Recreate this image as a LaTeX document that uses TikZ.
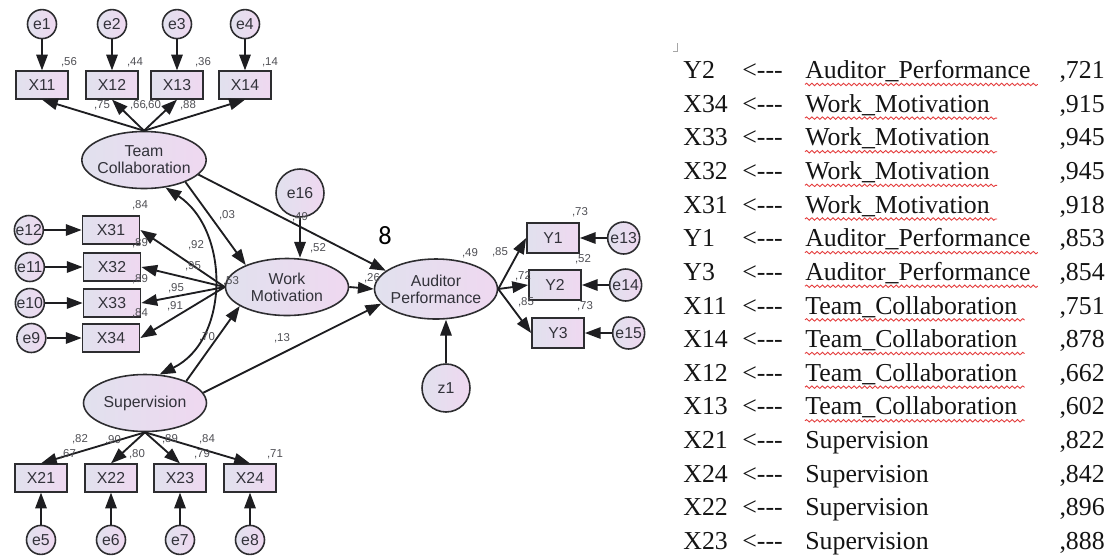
\documentclass[tikz,border=0pt]{standalone}
\usepackage{fontspec}
\setsansfont{Liberation Sans}
\newfontfamily\tabfont{Liberation Serif}[Ligatures=TeXOff]
\newfontfamily\pagefont{Carlito}
\usepackage{tikz}
\usetikzlibrary{arrows.meta, positioning, shapes.geometric, matrix, decorations.pathmorphing}

\definecolor{shadeleft}{RGB}{225,225,238}
\definecolor{shaderight}{RGB}{239,216,240}
\definecolor{nodeline}{RGB}{45,45,48}
\definecolor{nodeink}{RGB}{50,50,58}
\definecolor{estink}{RGB}{80,80,85}
\definecolor{lineink}{RGB}{30,30,33}
\definecolor{tabink}{RGB}{20,20,20}
\definecolor{spellred}{RGB}{228,60,60}

\begin{document}
\begin{tikzpicture}[
  x=0.02cm, y=-0.02cm,
  latent/.style={ellipse, draw=nodeline, line width=0.9pt, left color=shadeleft, right color=shaderight,
    minimum width=2.46cm, minimum height=1.14cm, inner xsep=-1.5pt, inner ysep=0pt, align=center,
    text=nodeink, font=\sffamily\fontsize{9}{9.8}\selectfont},
  observed/.style={rectangle, draw=nodeline, line width=1pt, left color=shadeleft, right color=shaderight,
    minimum width=1.04cm, minimum height=0.55cm, inner sep=0pt, text=nodeink, font=\sffamily\fontsize{9}{10}\selectfont},
  errorvar/.style={circle, draw=nodeline, line width=0.9pt, left color=shadeleft, right color=shaderight,
    minimum size=0.58cm, inner sep=0pt, text=nodeink, font=\sffamily\fontsize{9}{10}\selectfont},
  est/.style={inner sep=0pt, text=estink, font=\sffamily\fontsize{6.5}{7}\selectfont},
  arrow/.style={-{Triangle[length=9pt, width=6.5pt]}, line width=1.05pt, draw=lineink},
  covar/.style={{Triangle[length=9pt, width=6.5pt]}-{Triangle[length=9pt, width=6.5pt]}, line width=1.05pt, draw=lineink},
  tabcell/.style={anchor=base west, inner sep=0pt, text height=0.47cm, text depth=0.2028cm, text=tabink,
    font=\tabfont\fontsize{14.7}{17}\selectfont},
  spell/.style={draw=spellred, line width=0.5pt, decorate, decoration={snake, amplitude=0.7pt, segment length=3pt}},
]

\fill[white] (0,0) rectangle (1120,556);
\useasboundingbox (0,0) rectangle (1120,556);

% Latent variables
\node[latent] (tc) at (144,160) {Team\\Collaboration};
\node[latent] (wm) at (287,287) {Work\\Motivation};
\node[latent, minimum height=1.2cm] (ap) at (436,289) {Auditor\\Performance};
\node[latent] (sup) at (145,403) {Supervision};

% Team Collaboration indicators
\node[observed] (x11) at (42,85) {X11};
\node[observed] (x12) at (112,85) {X12};
\node[observed] (x13) at (177,85) {X13};
\node[observed] (x14) at (245,85) {X14};
\node[errorvar, above=0.62cm of x11] (e1) {e1};
\node[errorvar, above=0.62cm of x12] (e2) {e2};
\node[errorvar, above=0.62cm of x13] (e3) {e3};
\node[errorvar, above=0.62cm of x14] (e4) {e4};

% Work Motivation indicators
\node[observed, minimum width=1.14cm] (x31) at (111,230) {X31};
\node[observed, minimum width=1.14cm] (x32) at (112,267) {X32};
\node[observed, minimum width=1.14cm] (x33) at (112,303) {X33};
\node[observed, minimum width=1.14cm] (x34) at (111,338) {X34};
\node[errorvar, left=0.75cm of x31] (e12) {e12};
\node[errorvar, left=0.75cm of x32] (e11) {e11};
\node[errorvar, left=0.75cm of x33] (e10) {e10};
\node[errorvar, left=0.70cm of x34] (e9) {e9};

% Supervision indicators
\node[observed] (x21) at (41,478) {X21};
\node[observed] (x22) at (111,478) {X22};
\node[observed] (x23) at (180,478) {X23};
\node[observed] (x24) at (250,478) {X24};
\node[errorvar, below=0.64cm of x21] (e5) {e5};
\node[errorvar, below=0.64cm of x22] (e6) {e6};
\node[errorvar, below=0.64cm of x23] (e7) {e7};
\node[errorvar, below=0.64cm of x24] (e8) {e8};

% Auditor Performance indicators
\node[observed, minimum height=0.6cm] (y1) at (553,238) {Y1};
\node[observed, minimum height=0.6cm] (y2) at (555,285) {Y2};
\node[observed, minimum height=0.6cm] (y3) at (558,333) {Y3};
\node[errorvar, minimum size=0.64cm, right=0.54cm of y1] (e13) {e13};
\node[errorvar, minimum size=0.64cm, right=0.54cm of y2] (e14) {e14};
\node[errorvar, minimum size=0.64cm, right=0.54cm of y3] (e15) {e15};

% Disturbances
\node[errorvar, minimum size=0.96cm] (e16) at (300,193) {e16};
\node[errorvar, minimum size=0.96cm] (z1) at (446,388) {z1};

% Measurement arrows
\draw[arrow] (e1) -- (x11);
\draw[arrow] (e2) -- (x12);
\draw[arrow] (e3) -- (x13);
\draw[arrow] (e4) -- (x14);
\draw[arrow] (tc.north) -- (x11.south);
\draw[arrow] (tc.north) -- (x12.south);
\draw[arrow] (tc.north) -- (x13.south);
\draw[arrow] (tc.north) -- (x14.south);

\draw[arrow] (e12) -- (x31);
\draw[arrow] (e11) -- (x32);
\draw[arrow] (e10) -- (x33);
\draw[arrow] (e9) -- (x34);
\draw[arrow] (wm.west) -- (x31.east);
\draw[arrow] (wm.west) -- (x32.east);
\draw[arrow] (wm.west) -- (x33.east);
\draw[arrow] (wm.west) -- (x34.east);

\draw[arrow] (e5) -- (x21);
\draw[arrow] (e6) -- (x22);
\draw[arrow] (e7) -- (x23);
\draw[arrow] (e8) -- (x24);
\draw[arrow] (sup.south) -- (x21.north);
\draw[arrow] (sup.south) -- (x22.north);
\draw[arrow] (sup.south) -- (x23.north);
\draw[arrow] (sup.south) -- (x24.north);

\draw[arrow] (e13) -- (y1);
\draw[arrow] (e14) -- (y2);
\draw[arrow] (e15) -- (y3);
\draw[arrow] (ap.east) -- (y1.west);
\draw[arrow] (ap.east) -- (y2.west);
\draw[arrow] (ap.east) -- (y3.west);

% Structural paths
\draw[arrow] (e16) -- (e16 |- wm.north);
\draw[arrow] (z1) -- (z1 |- ap.south);
\draw[arrow] (tc.-28) -- (wm.152);
\draw[arrow] (tc.-15) -- (ap.160);
\draw[arrow] (sup.28) -- (wm.202);
\draw[arrow] (sup.10) -- (ap.195);
\draw[arrow] (wm.east) -- (ap.west);
\draw[covar] (tc.-52) .. controls (230,230) and (230,340) .. (sup.63);

% Estimates, Team Collaboration
\node[est] (r11) at (69,62) {,56};
\node[est] (r12) at (135,62) {,44};
\node[est] (r13) at (203,62) {,36};
\node[est] (r14) at (270,62) {,14};
\node[est] (l11) at (102,105) {,75};
\node[est] (l12) at (138,105) {,66};
\node[est] (l13) at (153,105) {,60};
\node[est] (l14) at (188,105) {,88};

% Estimates, Work Motivation
\node[est] (r31) at (140,205) {,84};
\node[est] (r32) at (140,243) {,89};
\node[est] (r33) at (140,279) {,89};
\node[est] (r34) at (140,313) {,84};
\node[est] (l31) at (196,245) {,92};
\node[est] (l32) at (193,266) {,95};
\node[est] (l33) at (176,288) {,95};
\node[est] (l34) at (175,306) {,91};
\node[est] (rwm) at (231,281) {,53};
\node[est] (re16) at (300,217) {,49};

% Estimates, structural paths
\node[est] (b1) at (227,215) {,03};
\node[est] (b2) at (318,248) {,52};
\node[est] (b3) at (372,278) {,26};
\node[est] (b4) at (207,337) {,70};
\node[est] (b5) at (282,338) {,13};
\node[est] (rap) at (470,253) {,49};

% Estimates, Auditor Performance
\node[est] (l41) at (500,252) {,85};
\node[est] (l42) at (523,276) {,72};
\node[est] (l43) at (526,302) {,85};
\node[est] (r41) at (580,212) {,73};
\node[est] (r42) at (583,259) {,52};
\node[est] (r43) at (585,306) {,73};

% Estimates, Supervision
\node[est] (l21) at (80,439) {,82};
\node[est] (l22) at (113,440) {,90};
\node[est] (l23) at (170,439) {,89};
\node[est] (l24) at (207,439) {,84};
\node[est] (r21) at (68,454) {,67};
\node[est] (r22) at (137,454) {,80};
\node[est] (r23) at (202,454) {,79};
\node[est] (r24) at (275,454) {,71};

\node[font=\pagefont\fontsize{15}{17}\selectfont, inner sep=0pt] (pg) at (385,236) {8};

% Loadings table
\draw[gray!70, line width=0.5pt] (673,51) -- (677,51) -- (677,43);
\matrix (tab) [matrix of nodes, anchor=north west, inner sep=0pt, row sep=0pt, column sep=0pt,
  nodes={tabcell},
  column 1/.style={nodes={text width=1.18cm}},
  column 2/.style={nodes={text width=1.26cm}}] at (683,54.8) {
Y2  & <--- & Auditor\_Performance &[0.58cm] ,721 \\
X34 & <--- & Work\_Motivation      & ,915 \\
X33 & <--- & Work\_Motivation      & ,945 \\
X32 & <--- & Work\_Motivation      & ,945 \\
X31 & <--- & Work\_Motivation      & ,918 \\
Y1  & <--- & Auditor\_Performance  & ,853 \\
Y3  & <--- & Auditor\_Performance  & ,854 \\
X11 & <--- & Team\_Collaboration   & ,751 \\
X14 & <--- & Team\_Collaboration   & ,878 \\
X12 & <--- & Team\_Collaboration   & ,662 \\
X13 & <--- & Team\_Collaboration   & ,602 \\
X21 & <--- & Supervision          & ,822 \\
X24 & <--- & Supervision          & ,842 \\
X22 & <--- & Supervision          & ,896 \\
X23 & <--- & Supervision          & ,888 \\
};
\foreach \r in {1,...,11}
  \draw[spell] ([yshift=-3.3pt]tab-\r-3.base west) -- ([xshift=4pt, yshift=-3.3pt]tab-\r-3.base east);

\end{tikzpicture}
\end{document}
